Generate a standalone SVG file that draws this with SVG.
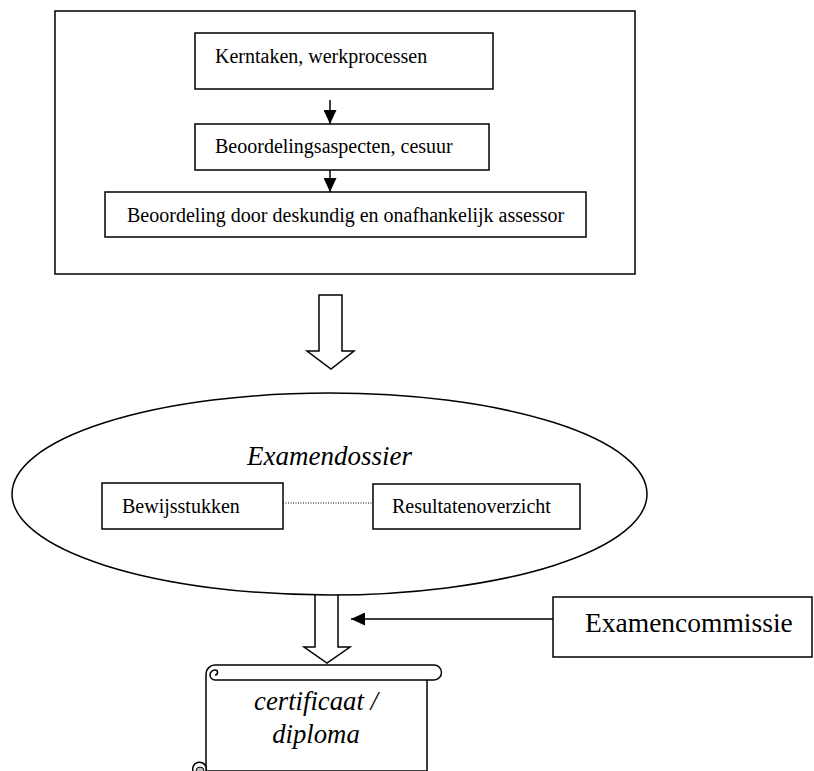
<svg xmlns="http://www.w3.org/2000/svg" width="814" height="771" viewBox="0 0 814 771">
  <style>
    .box { fill: #fff; stroke: #000; stroke-width: 1.5; }
    .line { fill: none; stroke: #000; stroke-width: 1.5; }
    .txt { font-family: "Liberation Serif", "Times New Roman", serif; font-size: 20px; fill: #000; }
    .big { font-size: 27px; }
    .it { font-style: italic; }
  </style>
  <defs>
    <marker id="head" viewBox="0 0 14 13" refX="14" refY="6.5" markerWidth="14" markerHeight="13" markerUnits="userSpaceOnUse" orient="auto">
      <path d="M0 0 L14 6.5 L0 13 Z" fill="#000"/>
    </marker>
  </defs>
  <rect width="814" height="771" fill="#fff"/>

  <!-- assessment frame -->
  <g id="frame">
    <rect class="box" x="55" y="11" width="580" height="263"/>
  </g>
  <g id="kerntaken">
    <rect class="box" x="195" y="33" width="298" height="56"/>
    <text class="txt" x="215" y="63">Kerntaken, werkprocessen</text>
  </g>
  <g id="aspecten">
    <rect class="box" x="195" y="124" width="294" height="46"/>
    <text class="txt" x="215" y="153">Beoordelingsaspecten, cesuur</text>
  </g>
  <g id="beoordeling">
    <rect class="box" x="105" y="192" width="481" height="45"/>
    <text class="txt" x="127" y="222">Beoordeling door deskundig en onafhankelijk assessor</text>
  </g>

  <!-- connectors -->
  <g id="connectors">
    <path class="line" d="M330 100 V124" marker-end="url(#head)"/>
    <path class="line" d="M330 170 V192" marker-end="url(#head)"/>
    <polygon class="box" points="319,295 342,295 342,351 354,351 331,369 307,351 319,351"/>
    <path class="box" d="M315 585 V647 H304 L327 663 L350 647 H338 V585"/>
    <path class="line" d="M553 619 H351" marker-end="url(#head)"/>
  </g>

  <!-- exam dossier -->
  <g id="dossier">
    <ellipse class="box" cx="329.5" cy="494" rx="317.5" ry="101"/>
    <text class="txt big it" x="329.5" y="465" text-anchor="middle">Examendossier</text>
    <line x1="283" y1="503" x2="373" y2="503" stroke="#000" stroke-width="1" stroke-dasharray="1 1.5"/>
  </g>
  <g id="bewijsstukken">
    <rect class="box" x="102" y="483" width="181" height="46"/>
    <text class="txt" x="122" y="513">Bewijsstukken</text>
  </g>
  <g id="resultaten">
    <rect class="box" x="373" y="484" width="207" height="45"/>
    <text class="txt" x="392" y="513">Resultatenoverzicht</text>
  </g>

  <g id="examencommissie">
    <rect class="box" x="553" y="597" width="259" height="60"/>
    <text class="txt" x="585" y="632" style="font-size:27.5px">Examencommissie</text>
  </g>

  <!-- certificate scroll -->
  <g id="certificaat">
    <path class="box" d="M215 665 H434 A7.5 7.5 0 0 1 434 680 H427 V771 H206 V674 A9 9 0 0 1 215 665 Z"/>
    <path class="line" d="M427 680 H215 A5 5 0 0 1 215 670 A2.5 2.5 0 0 1 215 675"/>
    <path d="M206 771 V767 A6 6 0 0 0 193 771" fill="#fff" stroke="#000" stroke-width="1.5"/>
    <circle cx="200" cy="771" r="4" fill="#bdbdbd" stroke="#000" stroke-width="1"/>
    <text class="txt big it" x="316" y="710" text-anchor="middle" style="font-size:26.7px">certificaat /</text>
    <text class="txt big it" x="316" y="743" text-anchor="middle" style="font-size:26.7px">diploma</text>
  </g>
</svg>
